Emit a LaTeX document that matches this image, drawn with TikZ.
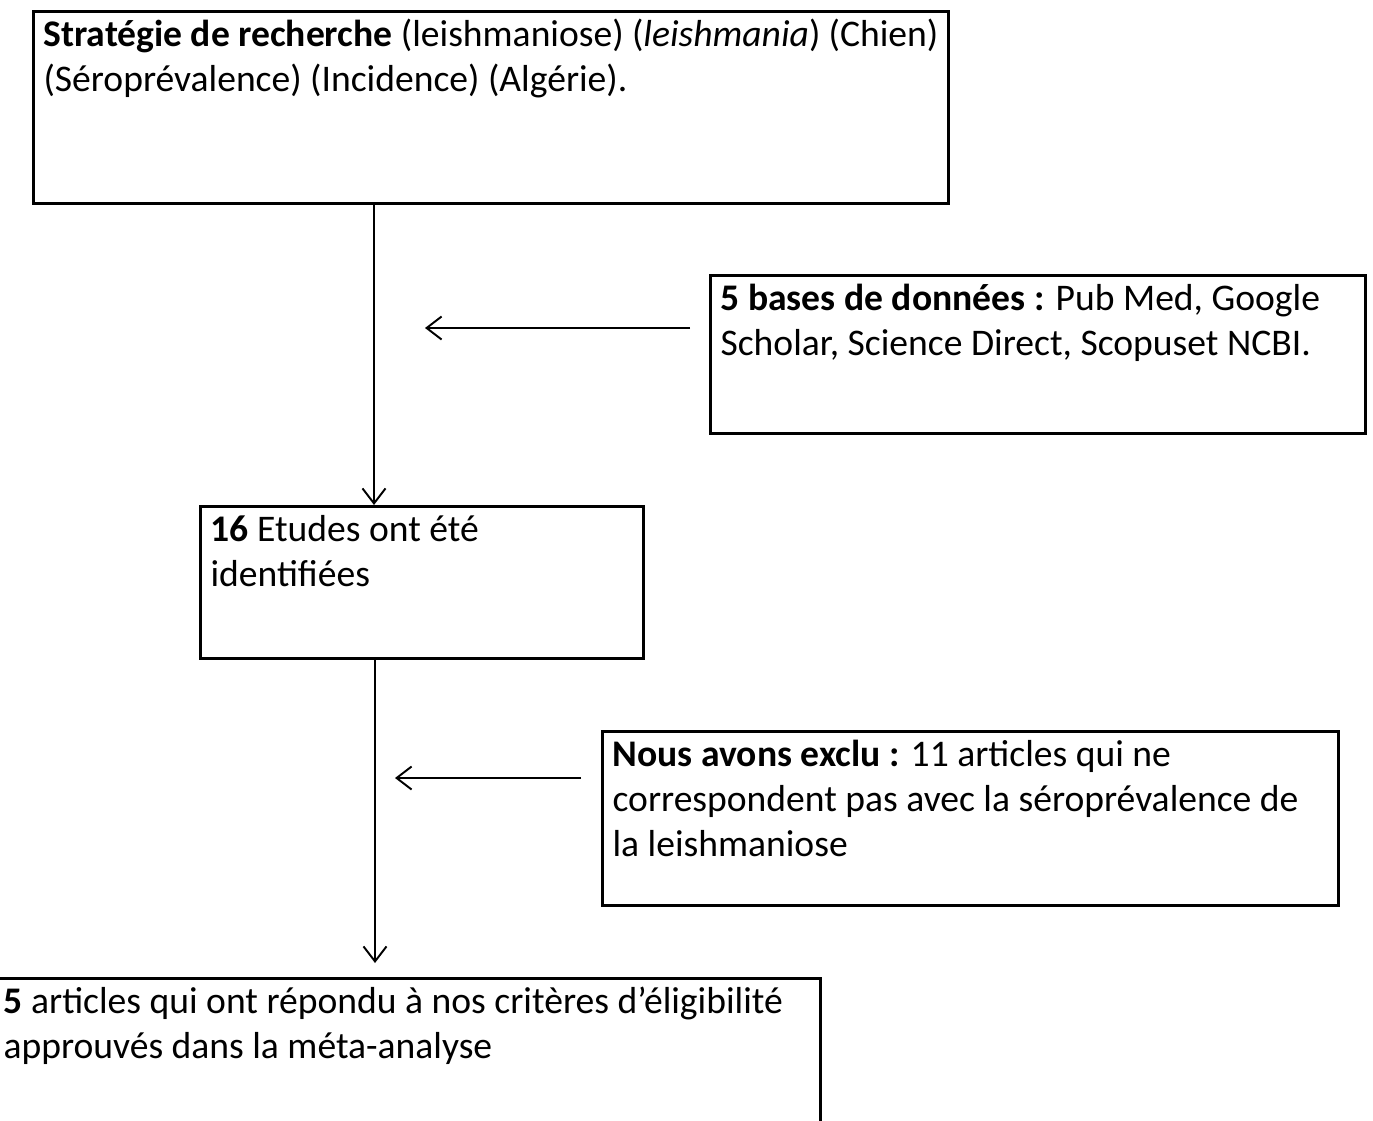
\documentclass[tikz,border=0pt]{standalone}
\usepackage{fontspec}
\setmainfont{Carlito}
\usetikzlibrary{arrows.meta, positioning}

\newcommand{\flowtext}[3]{\parbox[t][#2][t]{#1}{\raggedright\fontsize{21.4}{25.5}\selectfont\rule{0pt}{0.7cm}#3}}

\tikzset{
  flowbox/.style={rectangle, draw, line width=1.8pt, anchor=north west, inner xsep=0.2cm, inner ysep=0pt},
  flowarrow/.style={line width=1.1pt, -{Straight Barb[length=0.3cm, width=0.46cm, line width=1.1pt]}}
}

\begin{document}
\begin{tikzpicture}[x=0.02cm, y=-0.02cm]
  \useasboundingbox (0,0) rectangle (1373,1120);
  \node[flowbox] (strat) at (32,10) {\flowtext{17.9cm}{3.84cm}{%
    \textbf{Stratégie de recherche} (leishmaniose) (\textit{leishmania}) (Chien)\\
    (Séroprévalence) (Incidence) (Algérie).}};
  \node[flowbox] (bases) at (709,274) {\flowtext{12.7cm}{3.16cm}{%
    \textbf{5 bases de données :} Pub Med, Google\\
    Scholar, Science Direct, Scopuset NCBI.}};
  \node[flowbox] (found) at (199,505) {\flowtext{8.46cm}{3.04cm}{%
    \textbf{16} Etudes ont été\\
    identifiées}};
  \node[flowbox] (excl) at (601,730) {\flowtext{14.32cm}{3.48cm}{%
    \textbf{Nous avons exclu :} 11 articles qui ne\\
    correspondent pas avec la séroprévalence de\\
    la leishmaniose}};
  \node[flowbox] (final) at (-8,977) {\flowtext{16.14cm}{3.2cm}{%
    \textbf{5} articles qui ont répondu à nos critères d’éligibilité\\
    approuvés dans la méta-analyse}};

  \coordinate (stem1) at (374,0);
  \coordinate (stem2) at (375,0);
  \coordinate (tip1) at (425,328);
  \coordinate (tip2) at (395,778);
  \coordinate (tip3) at (375,963);
  \draw[flowarrow] (strat.south -| stem1) -- (found.north -| stem1);
  \draw[flowarrow, shorten <=0.38cm] (bases.west |- tip1) -- (tip1);
  \draw[flowarrow] (found.south -| stem2) -- (tip3);
  \draw[flowarrow, shorten <=0.4cm] (excl.west |- tip2) -- (tip2);
\end{tikzpicture}
\end{document}
